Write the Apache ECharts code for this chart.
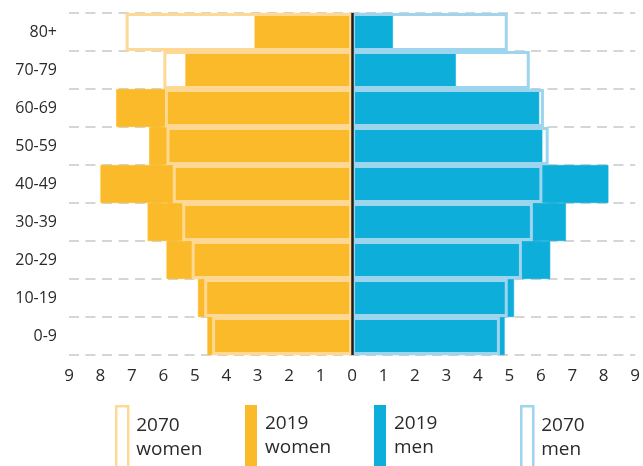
<!DOCTYPE html>
<html>
<head>
<meta charset="utf-8">
<script src="https://cdn.jsdelivr.net/npm/echarts@6/dist/echarts.min.js"></script>
<style>
html,body{margin:0;padding:0;background:#fff;}
#chart{width:643px;height:466px;}
</style>
</head>
<body>
<div id="chart"></div>
<script>
var categories = ['0-9','10-19','20-29','30-39','40-49','50-59','60-69','70-79','80+'];
var women2019 = [4.6, 4.9, 5.9, 6.5, 8.0, 6.45, 7.5, 5.3, 3.1];
var women2070 = [4.45, 4.7, 5.1, 5.4, 5.7, 5.9, 5.95, 6.0, 7.2];
var men2019 = [4.85, 5.15, 6.3, 6.8, 8.15, 6.05, 5.95, 3.3, 1.3];
var men2070 = [4.7, 4.95, 5.4, 5.75, 6.05, 6.25, 6.1, 5.65, 4.95];
var xTicks = [-9, 9, 1];

var C_W19 = '#FBBA29', C_M19 = '#0EAEDB', C_W70 = '#FFD993', C_M70 = '#9DD4EE';
var FONT = '"Open Sans", "Noto Sans", sans-serif';

function neg(a){ return a.map(function(v){ return -v; }); }

function legendAt(left, name, itemStyle){
  return {
    left: left, top: 405, padding: 0,
    itemWidth: 12, itemHeight: 62,
    icon: 'rect',
    selectedMode: false,
    data: [{name: name, itemStyle: itemStyle}],
    formatter: function(n){ return n.replace(' ', '\n'); },
    textStyle: {fontFamily: FONT, fontSize: 19, lineHeight: 24, color: '#2a2a2a', padding: [0,0,0,3]}
  };
}

var chart = echarts.init(document.getElementById('chart'));
chart.setOption({
  animation: false,
  grid: {left: 69, right: 7, top: 13, bottom: 111},
  legend: [
    legendAt(115, '2070 women', {color: 'rgba(0,0,0,0)', borderColor: C_W70, borderWidth: 2.5}),
    legendAt(245, '2019 women', {color: C_W19, borderWidth: 0}),
    legendAt(374, '2019 men', {color: C_M19, borderWidth: 0}),
    legendAt(520, '2070 men', {color: 'rgba(0,0,0,0)', borderColor: C_M70, borderWidth: 2.5})
  ],
  xAxis: {
    type: 'value', min: xTicks[0], max: xTicks[1], interval: xTicks[2],
    axisLine: {show: false}, axisTick: {show: false}, splitLine: {show: false},
    axisLabel: {
      formatter: function(v){ return Math.abs(v); },
      fontFamily: FONT, fontSize: 17, color: '#2a2a2a', margin: 13
    }
  },
  yAxis: {
    type: 'category', data: categories,
    axisLine: {show: false, onZero: false}, axisTick: {show: false},
    axisLabel: {fontFamily: FONT, fontSize: 16, color: '#2a2a2a', margin: 12, align: 'right'},
    splitLine: {show: true, lineStyle: {color: '#c8c8c8', width: 1.5, type: [10, 6.5]}}
  },
  series: [
    {name: '2019 women', type: 'bar', data: neg(women2019), barCategoryGap: '0%', barGap: '-100%',
     itemStyle: {color: C_W19, borderColor: C_W19, borderWidth: 0.6}},
    {name: '2019 men', type: 'bar', data: men2019, barCategoryGap: '0%', barGap: '-100%',
     itemStyle: {color: C_M19, borderColor: C_M19, borderWidth: 0.6}},
    {name: '2070 women', type: 'bar', data: neg(women2070), barCategoryGap: '0%', barGap: '-100%',
     itemStyle: {color: 'rgba(0,0,0,0)', borderColor: C_W70, borderWidth: 3}},
    {name: '2070 men', type: 'bar', data: men2070, barCategoryGap: '0%', barGap: '-100%',
     itemStyle: {color: 'rgba(0,0,0,0)', borderColor: C_M70, borderWidth: 3},
     markLine: {silent: true, symbol: 'none', label: {show: false},
       lineStyle: {color: '#1e1e1e', width: 2.5, type: 'solid'},
       data: [{xAxis: 0}]}}
  ]
});
</script>
</body>
</html>
